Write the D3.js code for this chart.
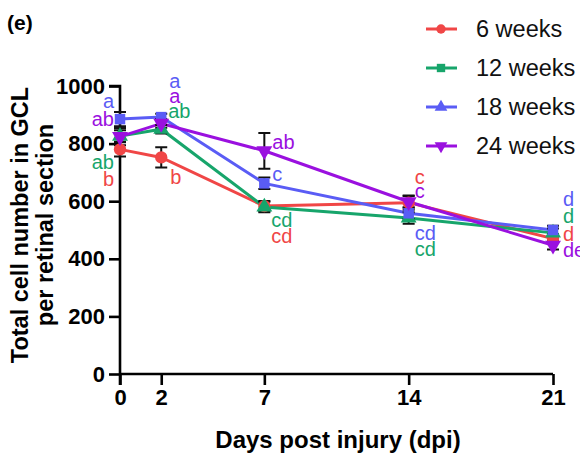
<!DOCTYPE html>
<html>
<head>
<meta charset="utf-8">
<script src="https://cdn.jsdelivr.net/npm/d3@7"></script>
<style>
  body { margin: 0; background: #fff; }
  svg { font-family: "Liberation Sans", Arial, sans-serif; display: block; }
</style>
</head>
<body>
<div id="chart"></div>
<script>
// Data
const days = [0, 2, 7, 14, 21];
const seriesNames = ['6 weeks', '12 weeks', '18 weeks', '24 weeks'];
const means6 = [780, 752, 583, 595, 470];
const means12 = [826, 850, 580, 542, 490];
const means18 = [885, 892, 662, 558, 500];
const means24 = [824, 870, 775, 598, 447];
const sem6 = [25, 35, 18, 25, 15];
const sem12 = [20, 15, 18, 20, 15];
const sem18 = [25, 12, 20, 20, 15];
const sem24 = [30, 15, 62, 20, 15];
const letters6 = ['b', 'b', 'cd', 'c', 'd'];
const letters12 = ['ab', 'ab', 'cd', 'cd', 'd'];
const letters18 = ['a', 'a', 'c', 'cd', 'd'];
const letters24 = ['ab', 'a', 'ab', 'c', 'de'];
const yTicks = [0, 200, 400, 600, 800, 1000];

function draw() {
  const colors = ['#f04646', '#17a56b', '#5a5cf5', '#9a10df'];
  const plotShapes = [d3.symbolCircle, d3.symbolTriangle, d3.symbolSquare, d3.symbolTriangle];
  const legendShapes = [d3.symbolCircle, d3.symbolSquare, d3.symbolTriangle, d3.symbolTriangle];
  const flip = [false, false, false, true];

  const series = [
    { means: means6, sem: sem6, letters: letters6 },
    { means: means12, sem: sem12, letters: letters12 },
    { means: means18, sem: sem18, letters: letters18 },
    { means: means24, sem: sem24, letters: letters24 },
  ];

  const width = 580, height = 459;
  const svg = d3.select('#chart').append('svg')
    .attr('width', width).attr('height', height);

  // Scales
  const xScale = d3.scaleLinear().domain([0, 21]).range([120, 553]);
  const yScale = d3.scaleLinear().domain([0, 1000]).range([374, 86]);

  // Axes
  const yAxis = svg.append('g')
    .attr('transform', 'translate(120,0)')
    .call(d3.axisLeft(yScale).tickValues(yTicks).tickSize(11).tickPadding(4).tickFormat(d3.format('d')));
  const xAxis = svg.append('g')
    .attr('transform', 'translate(0,374)')
    .call(d3.axisBottom(xScale).tickValues(days).tickSize(11).tickPadding(4));
  [xAxis, yAxis].forEach(ax => {
    ax.select('.domain').attr('stroke', '#000').attr('stroke-width', 2.6);
    ax.selectAll('.tick line').attr('stroke', '#000').attr('stroke-width', 2.6);
    ax.selectAll('.tick text').attr('fill', '#000').attr('font-size', 22)
      .attr('font-weight', 'bold').attr('font-family', '"Liberation Sans", Arial, sans-serif');
  });
  // extend y axis line down to x tick length
  yAxis.select('.domain').attr('d', `M-11,${yScale(1000)}H0V385`);
  xAxis.select('.domain').attr('d', `M${xScale(0)},0H${xScale(21)}`);

  // Lines, error bars, markers
  const line = d3.line().x((d, i) => xScale(days[i])).y(d => yScale(d));
  series.forEach((s, k) => {
    svg.append('path')
      .attr('d', line(s.means))
      .attr('fill', 'none')
      .attr('stroke', colors[k])
      .attr('stroke-width', 3);
  });
  series.forEach((s, k) => {
    const g = svg.append('g');
    s.means.forEach((m, i) => {
      const x = xScale(days[i]);
      const y1 = yScale(m + s.sem[i]), y0 = yScale(m - s.sem[i]);
      g.append('path')
        .attr('d', `M${x},${y0}V${y1}M${x - 6},${y1}H${x + 6}M${x - 6},${y0}H${x + 6}`)
        .attr('stroke', '#111').attr('stroke-width', 2).attr('fill', 'none');
    });
  });
  series.forEach((s, k) => {
    svg.append('g').selectAll('path')
      .data(s.means)
      .join('path')
      .attr('d', d3.symbol().type(plotShapes[k]).size(k === 0 ? 120 : 110))
      .attr('transform', (d, i) => `translate(${xScale(days[i])},${yScale(d)})${flip[k] ? ' rotate(180)' : ''}`)
      .attr('fill', colors[k]);
  });

  // Significance letters: [series, pixel dx, pixel y centre, anchor] per day
  const letterLayout = [
    [[2, -6, 102, 'end'], [3, -6, 120, 'end'], [1, -6, 163, 'end'], [0, -6, 180, 'end']],
    [[2, 8, 82, 'start'], [3, 8, 97, 'start'], [1, 7, 112, 'start'], [0, 9, 178, 'start']],
    [[3, 8, 143, 'start'], [2, 8, 175, 'start'], [1, 7, 221, 'start'], [0, 7, 237, 'start']],
    [[0, 6, 178, 'start'], [3, 6, 192, 'start'], [2, 6, 234, 'start'], [1, 6, 250, 'start']],
    [[2, 10, 200, 'start'], [1, 10, 217, 'start'], [0, 10, 235, 'start'], [3, 10, 251, 'start']],
  ];
  letterLayout.forEach((rows, i) => {
    rows.forEach(([k, dx, py, anchor]) => {
      svg.append('text')
        .attr('x', xScale(days[i]) + dx)
        .attr('y', py + 6)
        .attr('text-anchor', anchor)
        .attr('font-size', 20)
        .attr('fill', colors[k])
        .text(series[k].letters[i]);
    });
  });

  // Titles
  svg.append('text').attr('x', 7).attr('y', 30)
    .attr('font-size', 21).attr('font-weight', 'bold').text('(e)');
  svg.append('text')
    .attr('x', 338).attr('y', 448)
    .attr('text-anchor', 'middle').attr('font-size', 24).attr('font-weight', 'bold')
    .text('Days post injury (dpi)');
  const yTitle = svg.append('text')
    .attr('transform', 'translate(0,225) rotate(-90)')
    .attr('text-anchor', 'middle').attr('font-size', 23.5).attr('font-weight', 'bold');
  yTitle.append('tspan').attr('x', 0).attr('y', 28).text('Total cell number in GCL');
  yTitle.append('tspan').attr('x', 0).attr('y', 53).text('per retinal section');

  // Legend
  const legend = svg.append('g');
  seriesNames.forEach((name, k) => {
    const cy = 29 + k * 39;
    legend.append('line').attr('x1', 426).attr('x2', 457).attr('y1', cy).attr('y2', cy)
      .attr('stroke', colors[k]).attr('stroke-width', 3);
    legend.append('path')
      .attr('d', d3.symbol().type(legendShapes[k]).size(70))
      .attr('transform', `translate(441,${cy})${flip[k] ? ' rotate(180)' : ''}`)
      .attr('fill', colors[k]);
    legend.append('text').attr('x', 476).attr('y', cy + 8)
      .attr('font-size', 23.5).attr('fill', '#111').text(name);
  });
}

draw();
</script>
</body>
</html>
